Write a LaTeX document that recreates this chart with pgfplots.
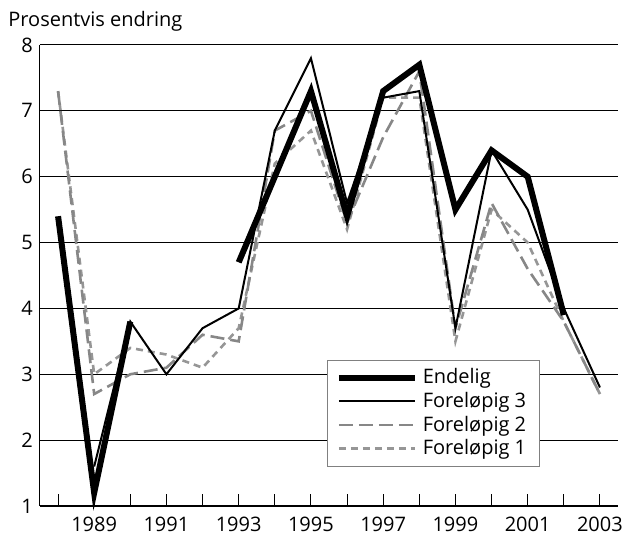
\documentclass[border=0pt]{standalone}
\usepackage{fontspec}
\setmainfont{Open Sans}
\usepackage{pgfplots}
\pgfplotsset{compat=1.18}
\definecolor{dg}{RGB}{135,135,135}
\definecolor{lg}{RGB}{150,150,150}
\begin{document}
\begin{tikzpicture}
\begin{axis}[
 scale only axis, width=289pt, height=230.5pt,
 xmin=1987.5, xmax=2003.5, ymin=1, ymax=8,
 axis lines*=left,
 x axis line style={line width=1.1pt},
 y axis line style={line width=0.5pt},
 xtick={1988,...,2003},
 xticklabels={,1989,,1991,,1993,,1995,,1997,,1999,,2001,,2003},
 ytick={1,...,8},
 ymajorgrids, grid style={black, line width=0.5pt},
 xtick style={black, line width=0.5pt},
 ytick style={draw=none},
 major tick length=6pt,
 tick align=inside,
 ticklabel style={font=\fontsize{10}{12}\selectfont},
 xticklabel style={inner sep=0pt, anchor=north, yshift=-5.5pt},
 /pgf/number format/assume math mode=true,
 unbounded coords=jump,
 clip=false,
 reverse legend,
 legend image code/.code={\draw[#1] (0pt,0pt) -- (38pt,0pt);},
 legend style={at={(rel axis cs:0.497,0.317)}, anchor=north west, draw=gray, line width=0.5pt,
   font=\fontsize{10}{12}\selectfont, row sep=0.3pt, inner xsep=4pt, inner ysep=3pt,
   nodes={inner xsep=2.5pt, inner ysep=1.2pt, anchor=west}},
]
\addplot[lg, line width=1.3pt, dash pattern=on 3.5pt off 2.5pt] coordinates {
(1988,7.3) (1989,3.0) (1990,3.4) (1991,3.3) (1992,3.1) (1993,3.7) (1994,6.2) (1995,6.7)
(1996,5.2) (1997,7.2) (1998,7.2) (1999,3.5) (2000,5.5) (2001,5.0) (2002,3.8) (2003,2.7)};
\addlegendentry{Foreløpig 1}
\addplot[dg, line width=1.3pt, dash pattern=on 7pt off 3pt] coordinates {
(1988,7.3) (1989,2.7) (1990,3.0) (1991,3.1) (1992,3.6) (1993,3.5) (1994,6.7) (1995,7.0)
(1996,5.3) (1997,6.6) (1998,7.6) (1999,3.7) (2000,5.6) (2001,4.6) (2002,3.8) (2003,2.7)};
\addlegendentry{Foreløpig 2}
\addplot[black, line width=1pt] coordinates {
(1989,1.6) (1990,3.8) (1991,3.0) (1992,3.7) (1993,4.0) (1994,6.7) (1995,7.8)
(1996,5.6) (1997,7.2) (1998,7.3) (1999,3.7) (2000,6.4) (2001,5.5) (2002,4.0) (2003,2.8)};
\addlegendentry{Foreløpig 3}
\addplot[black, line width=3pt] coordinates {
(1988,5.4) (1989,1.2) (1990,3.8) (1991,nan) (1992,nan) (1993,4.7) (1994,6.0) (1995,7.3)
(1996,5.4) (1997,7.3) (1998,7.7) (1999,5.5) (2000,6.4) (2001,6.0) (2002,3.9)};
\addlegendentry{Endelig}
\node[anchor=base west, inner sep=0pt, font=\fontsize{10}{12}\selectfont] at ([xshift=-16pt,yshift=9pt]rel axis cs:0,1) {Prosentvis endring};
\end{axis}
\path ([xshift=-20pt,yshift=-14.5pt]current axis.south west) rectangle ([xshift=4pt,yshift=22.5pt]current axis.north east);
\end{tikzpicture}
\end{document}
